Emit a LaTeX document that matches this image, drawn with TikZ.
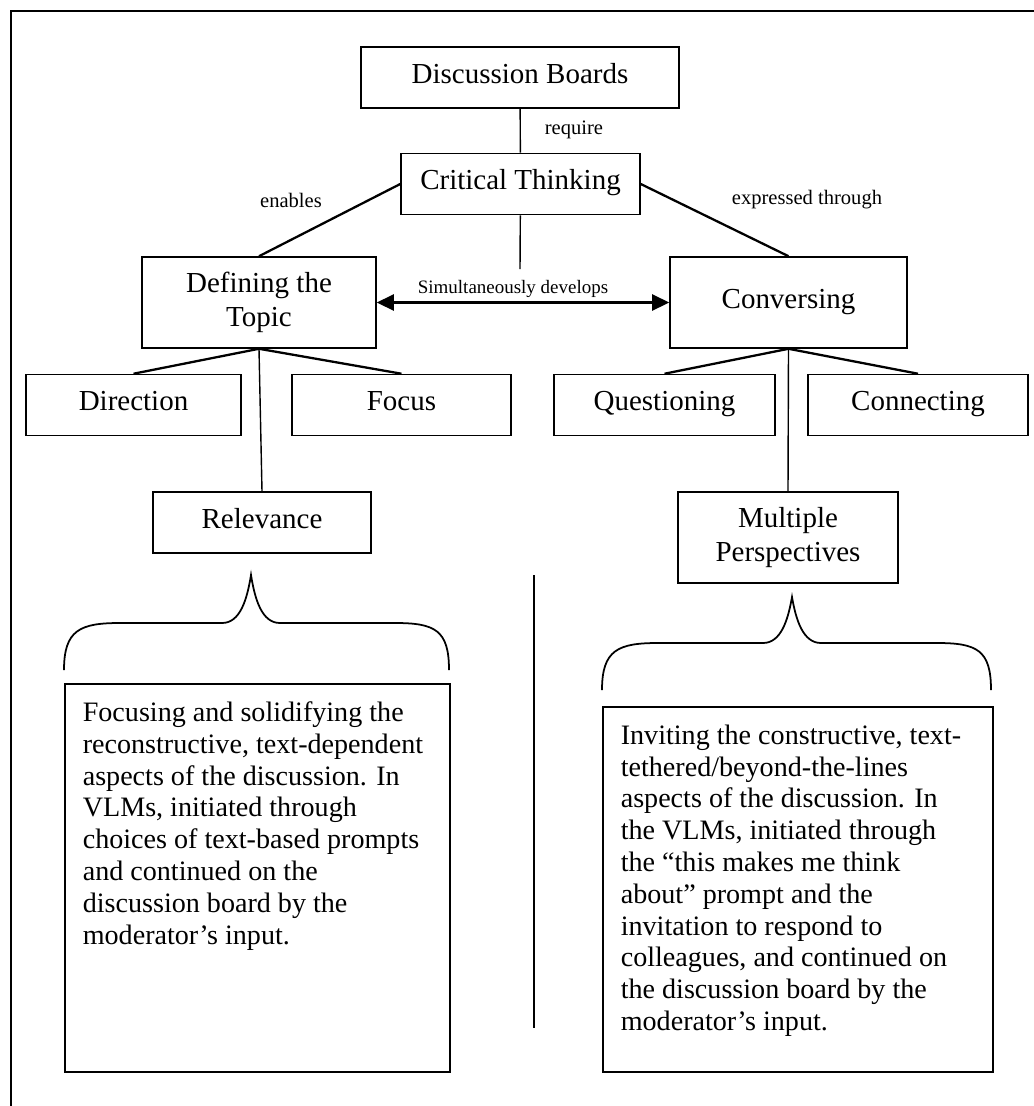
\documentclass[tikz,border=0pt]{standalone}
\usepackage{fontspec}
\setmainfont{Liberation Serif}
\usetikzlibrary{arrows.meta}
\begin{document}
\begin{tikzpicture}[
        x=0.02cm, y=-0.02cm,
        box/.style={rectangle, draw, line width=0.9pt, minimum width=4.4cm, minimum height=1.22cm, inner sep=2pt, text height=11pt, text depth=4.5pt, font=\fontsize{16.5}{19}\selectfont},
        bigbox/.style={rectangle, draw, line width=0.9pt, minimum width=4.4cm, minimum height=1.82cm, inner sep=2pt, align=center, font=\fontsize{16.5}{19}\selectfont},
        lbl/.style={font=\fontsize{11.7}{13}\selectfont, inner sep=1pt},
        textbox/.style={rectangle, draw, line width=0.9pt, anchor=north west, inner sep=0.36cm, font=\fontsize{16}{18.1}\selectfont},
        line/.style={draw, line width=0.8pt},
        diag/.style={draw, line width=1.3pt},
        brace/.style={draw, line width=1pt}
    ]
        \useasboundingbox (0,0) rectangle (1034,1106);
        % frame
        \draw[line width=1.1pt] (1034,11) -- (11,11) -- (11,1106);

        \node[box, minimum width=6.36cm] (boards) at (520,77.5) {Discussion Boards};
        \node[box, minimum width=4.78cm] (critical) at (520.5,184) {Critical Thinking};
        \node[bigbox, minimum width=4.68cm] (defining) at (259,302.5) {Defining the\\Topic};
        \node[bigbox, minimum width=4.74cm] (conversing) at (788.5,302.5) {Conversing};

        \node[box, minimum width=4.3cm] (direction) at (133.5,405) {Direction};
        \node[box, minimum width=4.38cm] (focus) at (401.5,405) {Focus};
        \node[box, minimum width=4.42cm] (questioning) at (664.5,405) {Questioning};
        \node[box] (connecting) at (918,405) {Connecting};

        \node[box, minimum width=4.36cm] (relevance) at (262,522.5) {Relevance};
        \node[bigbox] (multiple) at (788,537.5) {Multiple\\Perspectives};

        \node[lbl] (require) at (574,130) {require};
        \node[lbl] (enables) at (291,200) {enables};
        \node[lbl] (expressed) at (807,200) {expressed through};
        \node[lbl, font=\fontsize{10.8}{12}\selectfont] (simult) at (513,289) {Simultaneously develops};
        \coordinate (develops) at (520,269);

        \draw[line] (boards) -- (critical);
        \draw[diag] (critical.west) -- (defining.north);
        \draw[diag] (critical.east) -- (conversing.north);
        \draw[line] (critical) -- (develops);
        \draw[line, line width=1.3pt, {Triangle[length=0.34cm,width=0.32cm]}-{Triangle[length=0.34cm,width=0.32cm]}] (defining) -- (conversing);

        \draw[diag] (defining.south) -- (direction.north);
        \draw[diag] (defining.south) -- (focus.north);
        \draw[line] (defining.south) -- (relevance.north);
        \draw[diag] (conversing.south) -- (questioning.north);
        \draw[diag] (conversing.south) -- (connecting.north);
        \draw[line] (conversing.south) -- (multiple.north);

        % braces
        \draw[brace] (64,670) .. controls (64,630) and (80,623) .. (120,623) -- (222,623)
            .. controls (240,623) and (247,600) .. (251,575) .. controls (255,600) and (262,623) .. (280,623)
            -- (395,623) .. controls (435,623) and (449,630) .. (449,670);
        \draw[brace] (602,690) .. controls (602,650) and (618,643) .. (658,643) -- (763,643)
            .. controls (781,643) and (788,620) .. (792,597) .. controls (796,620) and (803,643) .. (821,643)
            -- (937,643) .. controls (977,643) and (991,650) .. (991,690);
        \draw[line] (534,575) -- (534,1028);

        \node[textbox] (leftnote) at (64,683) {\parbox[t][7.04cm][t]{6.98cm}{\raggedright
            Focusing and solidifying the\\
            reconstructive, text-dependent\\
            aspects of the discussion. In\\
            VLMs, initiated through\\
            choices of text-based prompts\\
            and continued on the\\
            discussion board by the\\
            moderator’s input.}};
        \node[textbox] (rightnote) at (602,706) {\parbox[t][6.58cm][t]{7.08cm}{\raggedright
            Inviting the constructive, text-\\
            tethered/beyond-the-lines\\
            aspects of the discussion. In\\
            the VLMs, initiated through\\
            the “this makes me think\\
            about” prompt and the\\
            invitation to respond to\\
            colleagues, and continued on\\
            the discussion board by the\\
            moderator’s input.}};
    \end{tikzpicture}
\end{document}
